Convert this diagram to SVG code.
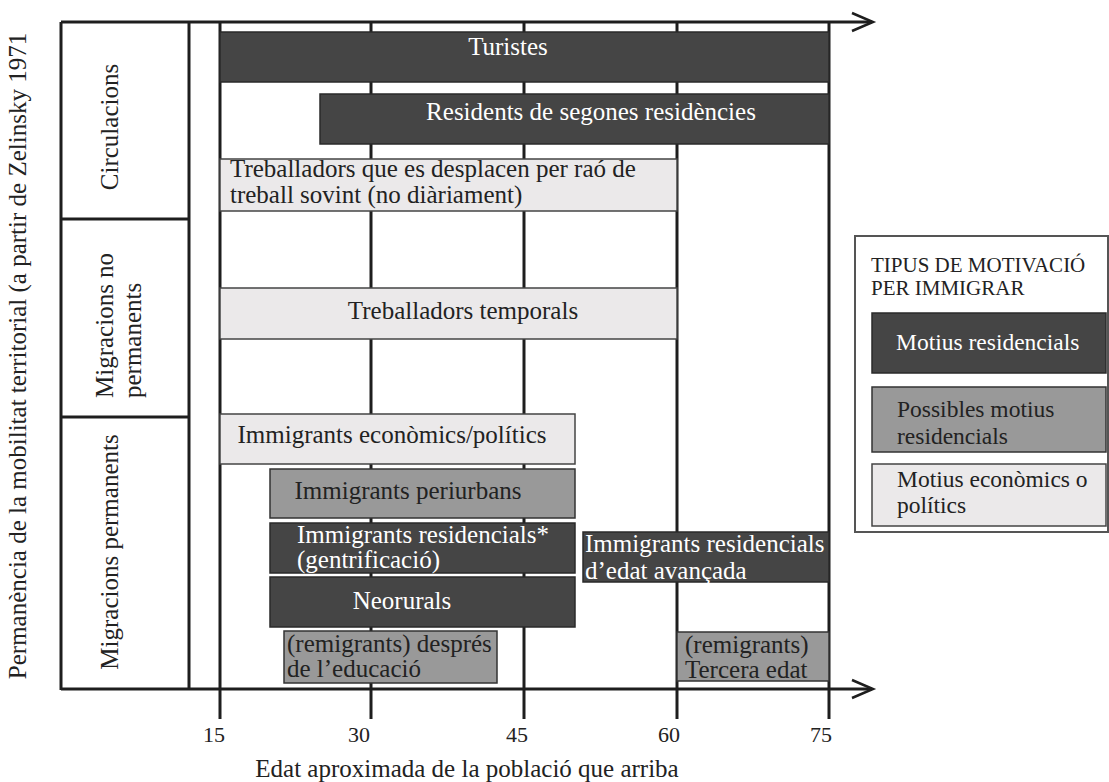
<svg xmlns="http://www.w3.org/2000/svg" width="1109" height="782" viewBox="0 0 1109 782">
<style>
text{font-family:"Liberation Serif","Times New Roman",serif;fill:#222}
.b{font-size:25px}
.w{fill:#fff}
.dark{fill:#454545;stroke:#2a2a2a;stroke-width:1.5}
.mid{fill:#999999;stroke:#333;stroke-width:1.5}
.light{fill:#ebe9ea;stroke:#444;stroke-width:1.5}
.ln{stroke:#1e1e1e;stroke-width:3;fill:none}
.ar{stroke:#1e1e1e;stroke-width:2.5;fill:none}
.tk{font-size:22px}
.lg{font-size:23.5px}
</style>
<rect width="1109" height="782" fill="#fff"/>
<g id="frame">
<line class="ln" x1="61" y1="22" x2="872" y2="22"/>
<line class="ln" x1="61" y1="689" x2="872" y2="689"/>
<line class="ln" x1="61" y1="22" x2="61" y2="690"/>
<line class="ln" x1="189" y1="22" x2="189" y2="689"/>
<line class="ln" x1="61" y1="219" x2="189" y2="219"/>
<line class="ln" x1="61" y1="417" x2="189" y2="417"/>
<line class="ln" x1="220" y1="22" x2="220" y2="719"/>
<line class="ln" x1="371" y1="22" x2="371" y2="719"/>
<line class="ln" x1="524" y1="22" x2="524" y2="719"/>
<line class="ln" x1="677" y1="22" x2="677" y2="719"/>
<line class="ln" x1="829" y1="22" x2="829" y2="719"/>
<polyline class="ar" points="852,13 873,22 852,31"/>
<polyline class="ar" points="852,680 873,689 852,698"/>
</g>
<g id="axis-labels">
<text class="tk" x="214" y="742" text-anchor="middle">15</text>
<text class="tk" x="359" y="742" text-anchor="middle">30</text>
<text class="tk" x="517" y="742" text-anchor="middle">45</text>
<text class="tk" x="669" y="742" text-anchor="middle">60</text>
<text class="tk" x="821" y="742" text-anchor="middle">75</text>
<text class="b" x="467" y="777" text-anchor="middle">Edat aproximada de la població que arriba</text>
<text class="b" transform="translate(26,356) rotate(-90)" text-anchor="middle">Permanència de la mobilitat territorial (a partir de Zelinsky 1971</text>
</g>
<g id="categories">
<text class="b" transform="translate(118,127) rotate(-90)" text-anchor="middle">Circulacions</text>
<text class="b" transform="translate(113,398) rotate(-90)">Migracions no</text>
<text class="b" transform="translate(141,398) rotate(-90)">permanents</text>
<text class="b" transform="translate(118,552) rotate(-90)" text-anchor="middle">Migracions permanents</text>
</g>
<g id="bar-turistes">
<rect class="dark" x="220" y="32" width="609" height="50"/>
<text class="b w" x="508" y="55" text-anchor="middle">Turistes</text>
</g>
<g id="bar-residents">
<rect class="dark" x="320" y="94" width="509" height="50"/>
<text class="b w" x="591" y="120" text-anchor="middle">Residents de segones residències</text>
</g>
<g id="bar-treballadors-desplacen">
<rect class="light" x="220" y="159" width="457" height="52"/>
<text class="b" x="230" y="177">Treballadors que es desplacen per raó de</text>
<text class="b" x="230" y="203">treball sovint (no diàriament)</text>
</g>
<g id="bar-temporals">
<rect class="light" x="220" y="288" width="457" height="51"/>
<text class="b" x="463" y="319" text-anchor="middle">Treballadors temporals</text>
</g>
<g id="bar-economics">
<rect class="light" x="220" y="414" width="355" height="50"/>
<text class="b" x="392" y="443" text-anchor="middle">Immigrants econòmics/polítics</text>
</g>
<g id="bar-periurbans">
<rect class="mid" x="270" y="469" width="305" height="49"/>
<text class="b" x="408" y="499" text-anchor="middle">Immigrants periurbans</text>
</g>
<g id="bar-residencials">
<rect class="dark" x="270" y="523" width="305" height="50"/>
<text class="b w" x="297" y="543">Immigrants residencials*</text>
<text class="b w" x="297" y="568">(gentrificació)</text>
</g>
<g id="bar-neorurals">
<rect class="dark" x="270" y="577" width="305" height="50"/>
<text class="b w" x="402" y="609" text-anchor="middle">Neorurals</text>
</g>
<g id="bar-remigrants-educacio">
<rect class="mid" x="284" y="631" width="213" height="52"/>
<text class="b" x="287" y="652">(remigrants) després</text>
<text class="b" x="287" y="677">de l’educació</text>
</g>
<g id="bar-edat-avancada">
<rect class="dark" x="583" y="532" width="246" height="50"/>
<text class="b w" x="585" y="552">Immigrants residencials</text>
<text class="b w" x="585" y="579">d’edat avançada</text>
</g>
<g id="bar-tercera-edat">
<rect class="mid" x="677" y="632" width="152" height="49"/>
<text class="b" x="685" y="653">(remigrants)</text>
<text class="b" x="685" y="678">Tercera edat</text>
</g>
<g id="legend">
<rect x="855" y="236" width="253" height="296" fill="#fff" stroke="#555" stroke-width="2"/>
<text x="871" y="272" font-size="21">TIPUS DE MOTIVACIÓ</text>
<text x="871" y="295" font-size="21">PER IMMIGRAR</text>
<rect class="dark" x="872" y="313" width="234" height="60"/>
<text class="lg w" x="896" y="350">Motius residencials</text>
<rect class="mid" x="872" y="387" width="234" height="65"/>
<text class="lg" x="897" y="417">Possibles motius</text>
<text class="lg" x="897" y="444">residencials</text>
<rect class="light" x="872" y="464" width="234" height="62"/>
<text class="lg" x="897" y="487">Motius econòmics o</text>
<text class="lg" x="897" y="513">polítics</text>
</g>
</svg>
